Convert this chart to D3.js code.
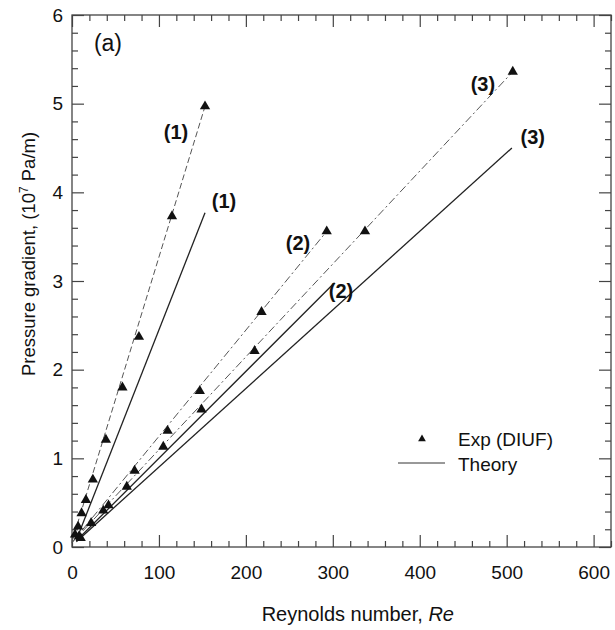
<!DOCTYPE html>
<html>
<head>
<meta charset="utf-8">
<script src="https://cdn.jsdelivr.net/npm/d3@7"></script>
<style>
  html, body { margin: 0; padding: 0; background: #fff; }
  svg { display: block; font-family: "Liberation Sans", Arial, Helvetica, sans-serif; }
</style>
</head>
<body>
<svg id="chart" width="615" height="630"></svg>
<script>
// Measured pressure gradient (10^7 Pa/m) vs Reynolds number, three flow cases
const exp1Re = [3.5, 7, 11, 16, 24, 39, 58, 77, 115, 153];
const exp1Dp = [0.14, 0.23, 0.38, 0.53, 0.76, 1.21, 1.80, 2.37, 3.73, 4.97];
const exp2Re = [8, 42, 72, 110, 147, 218, 293];
const exp2Dp = [0.12, 0.47, 0.86, 1.31, 1.76, 2.65, 3.56];
const exp3Re = [10, 22, 36, 63, 105, 149, 210, 337, 507];
const exp3Dp = [0.10, 0.27, 0.41, 0.68, 1.13, 1.55, 2.21, 3.56, 5.36];

// Linear fits through the measured data (end points)
const fitRe = [[0, 153], [0, 293], [0, 507]];
const fitDp = [[0.06, 4.97], [0.05, 3.56], [0.05, 5.36]];

// Theoretical predictions (end points)
const theoryRe = [[5, 153], [5, 302], [5, 506]];
const theoryDp = [[0.08, 3.77], [0.07, 2.98], [0.06, 4.50]];

// Case labels
const caseText = ["(1)", "(1)", "(2)", "(2)", "(3)", "(3)"];
const caseRe = [119.6, 174.8, 260, 309.4, 472.7, 530];
const caseDp = [4.68, 3.90, 3.43, 2.89, 5.22, 4.62];

const xTicks = [0, 100, 200, 300, 400, 500, 600];
const yTicks = [0, 1, 2, 3, 4, 5, 6];

const svg = d3.select("#chart");
const plotL = 72, plotR = 611, plotT = 15, plotB = 547;

const x = d3.scaleLinear().domain([0, 620]).range([plotL, plotR]);
const y = d3.scaleLinear().domain([0, 6]).range([plotB, plotT]);

const axisColor = "#444";

// Frame ticks: inward on all four sides, minor every 20 (x) and 0.2 (y)
const xMinor = d3.range(0, 621, 20).filter(v => v % 100 !== 0);
const yMinor = d3.range(0, 6.001, 0.2).map(v => +v.toFixed(1)).filter(v => Math.abs(v - Math.round(v)) > 1e-6);

function styleAxis(g) {
  g.select(".domain").remove();
  g.selectAll("line").attr("stroke", axisColor).attr("stroke-width", 1.2);
}
function styleLabels(g) {
  g.selectAll("text").attr("font-size", 19).attr("fill", "#111")
    .attr("font-family", "Liberation Sans, Arial, sans-serif");
}

// bottom
svg.append("g").attr("transform", `translate(0,${plotB})`)
  .call(d3.axisBottom(x).tickValues(xTicks).tickSize(-12).tickPadding(19).tickFormat(d3.format("d")))
  .call(styleAxis).call(styleLabels);
svg.append("g").attr("transform", `translate(0,${plotB})`)
  .call(d3.axisBottom(x).tickValues(xMinor).tickSize(-6).tickFormat(""))
  .call(styleAxis);
// top
svg.append("g").attr("transform", `translate(0,${plotT})`)
  .call(d3.axisTop(x).tickValues(xTicks).tickSize(-12).tickFormat(""))
  .call(styleAxis);
svg.append("g").attr("transform", `translate(0,${plotT})`)
  .call(d3.axisTop(x).tickValues(xMinor).tickSize(-6).tickFormat(""))
  .call(styleAxis);
// left
svg.append("g").attr("transform", `translate(${plotL},0)`)
  .call(d3.axisLeft(y).tickValues(yTicks).tickSize(-12).tickPadding(9).tickFormat(d3.format("d")))
  .call(styleAxis).call(styleLabels);
svg.append("g").attr("transform", `translate(${plotL},0)`)
  .call(d3.axisLeft(y).tickValues(yMinor).tickSize(-6).tickFormat(""))
  .call(styleAxis);
// right
svg.append("g").attr("transform", `translate(${plotR},0)`)
  .call(d3.axisRight(y).tickValues(yTicks).tickSize(-12).tickFormat(""))
  .call(styleAxis);
svg.append("g").attr("transform", `translate(${plotR},0)`)
  .call(d3.axisRight(y).tickValues(yMinor).tickSize(-6).tickFormat(""))
  .call(styleAxis);

// frame
svg.append("rect")
  .attr("x", plotL).attr("y", plotT)
  .attr("width", plotR - plotL).attr("height", plotB - plotT)
  .attr("fill", "none").attr("stroke", axisColor).attr("stroke-width", 1.3);

// axis titles
svg.append("text")
  .attr("x", (x(0) + x(600)) / 2 + 25).attr("y", 621)
  .attr("text-anchor", "middle").attr("font-size", 20).attr("fill", "#111")
  .call(t => {
    t.append("tspan").text("Reynolds number, ");
    t.append("tspan").attr("font-style", "italic").text("Re");
  });

svg.append("text")
  .attr("transform", `translate(35,254) rotate(-90)`)
  .attr("text-anchor", "middle").attr("font-size", 18.5).attr("fill", "#111")
  .call(t => {
    t.append("tspan").text("Pressure gradient, (10");
    t.append("tspan").attr("font-size", 12).attr("dy", -7).text("7");
    t.append("tspan").attr("dy", 7).text(" Pa/m)");
  });

// panel tag
svg.append("text")
  .attr("x", x(41.4)).attr("y", y(5.68))
  .attr("text-anchor", "middle").attr("dominant-baseline", "central")
  .attr("font-size", 23).attr("fill", "#111").text("(a)");

const plot = svg.append("g");
const line = d3.line().x(d => x(d[0])).y(d => y(d[1]));

// theory lines
theoryRe.forEach((re, i) => {
  plot.append("path")
    .datum(re.map((r, j) => [r, theoryDp[i][j]]))
    .attr("d", line)
    .attr("fill", "none").attr("stroke", "#222").attr("stroke-width", 1.3);
});

// fits through measured data
fitRe.forEach((re, i) => {
  plot.append("path")
    .datum(re.map((r, j) => [r, fitDp[i][j]]))
    .attr("d", line)
    .attr("fill", "none").attr("stroke", "#555").attr("stroke-width", 1)
    .attr("stroke-dasharray", i === 0 ? "6,3" : "8,3,2,3");
});

// measured points
const tri = d3.symbol().type(d3.symbolTriangle).size(46);
[[exp1Re, exp1Dp], [exp2Re, exp2Dp], [exp3Re, exp3Dp]].forEach(([re, dp]) => {
  plot.selectAll(null)
    .data(re.map((r, j) => [r, dp[j]]))
    .enter().append("path")
    .attr("d", tri)
    .attr("transform", d => `translate(${x(d[0])},${y(d[1])})`)
    .attr("fill", "#111");
});

// case labels
plot.selectAll(null)
  .data(caseText.map((t, i) => ({ t, re: caseRe[i], dp: caseDp[i] })))
  .enter().append("text")
  .attr("x", d => x(d.re)).attr("y", d => y(d.dp))
  .attr("text-anchor", "middle").attr("dominant-baseline", "central")
  .attr("font-size", 20).attr("font-weight", "bold").attr("fill", "#111")
  .text(d => d.t);

// legend
const lg = svg.append("g");
lg.append("path").attr("d", d3.symbol().type(d3.symbolTriangle).size(26))
  .attr("transform", "translate(422,439)").attr("fill", "#111");
lg.append("text").attr("x", 458).attr("y", 446).attr("font-size", 19).attr("fill", "#111").text("Exp (DIUF)");
lg.append("line").attr("x1", 398).attr("x2", 445).attr("y1", 463).attr("y2", 463)
  .attr("stroke", "#333").attr("stroke-width", 1);
lg.append("text").attr("x", 458).attr("y", 471).attr("font-size", 19).attr("fill", "#111").text("Theory");
</script>
</body>
</html>
